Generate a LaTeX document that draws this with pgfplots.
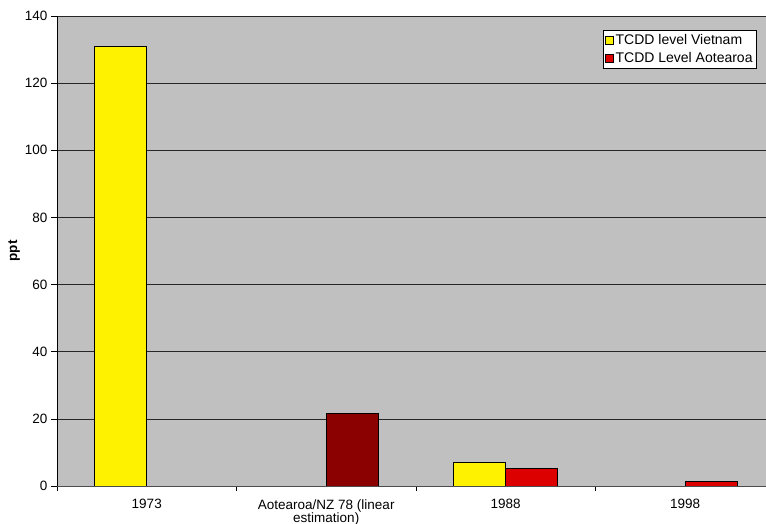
\documentclass[border=0pt]{standalone}
\usepackage{fontspec}
\setmainfont{Liberation Sans}
\usepackage{pgfplots}
\pgfplotsset{compat=1.18}
\definecolor{bgGray}{HTML}{C0C0C0}
\definecolor{vYellow}{HTML}{FFF200}
\definecolor{aRed}{HTML}{DD0000}
\definecolor{aDark}{HTML}{8B0000}
\begin{document}
\begin{tikzpicture}
\begin{axis}[
  at={(57pt,38pt)}, anchor=south west,
  scale only axis, width=709pt, height=470pt,
  xmin=-0.5, xmax=3.45, ymin=0, ymax=140,
  axis background/.style={fill=bgGray},
  axis x line*=bottom, axis y line*=left,
  x axis line style={draw=black!70, line width=0.8pt, -},
  y axis line style={draw=black, line width=0.8pt, -},
  ytick={0,20,...,140},
  ymajorgrids, grid style={draw=black!85, line width=0.7pt},
  xtick={0,1,2,3},
  xticklabels={1973, {Aotearoa/NZ 78 (linear\\estimation)}, 1988, 1998},
  xticklabel style={align=center, font=\fontsize{13.5}{13}\selectfont, yshift=-4pt},
  yticklabel style={font=\fontsize{13.5}{15}\selectfont},
  major x tick style={draw=none},
  minor xtick={-0.5,0.5,1.5,2.5},
  minor x tick style={draw=black, line width=0.7pt},
  major y tick style={draw=black, line width=0.7pt},
  tick align=outside,
  major tick length=6pt, minor tick length=5pt,
  /pgf/number format/assume math mode=true,
  ylabel={\textbf{ppt}},
  ylabel style={at={(axis description cs:-0.0606,0.5)}, anchor=center, font=\fontsize{13.5}{15}\selectfont},
  legend style={at={(axis description cs:0.987,0.970)}, anchor=north east,
    draw=black, fill=white, font=\fontsize{14}{15}\selectfont,
    inner xsep=2pt, inner ysep=2pt, row sep=2.5pt,
    /tikz/every even column/.append style={column sep=2pt}},
  legend cell align=left,
  legend image code/.code={\draw[#1, line width=0.6pt] (0pt,-3.9pt) rectangle (7.8pt,3.9pt);},
]
\addplot[ybar, bar width=0.29, bar shift=-0.145, fill=vYellow, draw=black, line width=0.7pt]
  coordinates {(0,131) (2,7)};
\addlegendentry{TCDD level Vietnam}
\addplot[ybar, bar width=0.29, bar shift=0.145, fill=aRed, draw=black, line width=0.7pt]
  coordinates {(2,5.3) (3,1.4)};
\addlegendentry{TCDD Level Aotearoa}
\addplot[ybar, bar width=0.29, bar shift=0.145, fill=aDark, draw=black, line width=0.7pt, forget plot]
  coordinates {(1,21.6)};
\end{axis}
\pgfresetboundingbox
\path (0,0) rectangle (766pt,524pt);
\end{tikzpicture}
\end{document}
